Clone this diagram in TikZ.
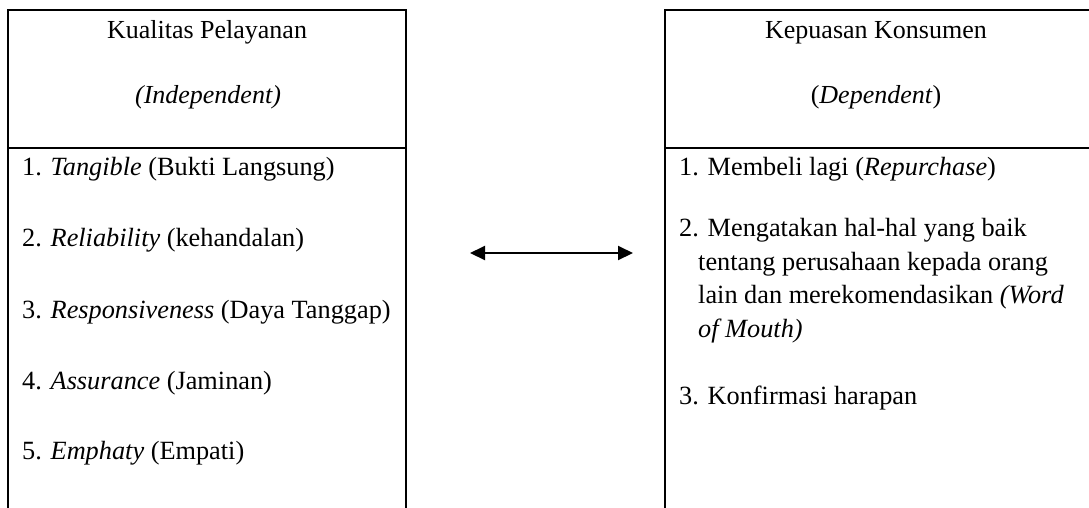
\documentclass[tikz,border=0pt]{standalone}
\usepackage{fontspec}
\setmainfont{Liberation Serif}
\usetikzlibrary{arrows.meta}
\tikzset{
  frame/.style={line width=2pt, line cap=rect},
  head/.style={anchor=base, inner sep=0pt, font=\fontsize{26}{30}\selectfont},
  item/.style={anchor=base west, inner sep=0pt, font=\fontsize{26.3}{30}\selectfont},
  link/.style={line width=2pt, {Triangle[length=15pt,width=14pt]}-{Triangle[length=15pt,width=14pt]}}
}
\begin{document}
\begin{tikzpicture}[x=1pt,y=-1pt]
\useasboundingbox (0,0) rectangle (1089,507);
% left box
\coordinate (LBL) at (8,510);
\coordinate (LTL) at (8,10);
\coordinate (LTR) at (406,10);
\coordinate (LBR) at (406,510);
\coordinate (LDL) at (8,148);
\coordinate (LDR) at (406,148);
\draw[frame] (LBL) -- (LTL) -- (LTR) -- (LBR);
\draw[frame] (LDL) -- (LDR);
% right box
\coordinate (RBL) at (665,510);
\coordinate (RTL) at (665,10);
\coordinate (RTR) at (1092,10);
\coordinate (RDL) at (665,148);
\coordinate (RDR) at (1092,148);
\draw[frame] (RBL) -- (RTL) -- (RTR);
\draw[frame] (RDL) -- (RDR);
% headers
\node[head] (lh1) at (207,38) {Kualitas Pelayanan};
\node[head] (lh2) at (208,103) {\textit{(Independent)}};
\node[head] (rh1) at (876,38) {Kepuasan Konsumen};
\node[head] (rh2) at (876,103) {(\textit{Dependent})};
% left items
\node[item] (l1) at (22,175) {1. \textit{Tangible} (Bukti Langsung)};
\node[item] (l2) at (22,246) {2. \textit{Reliability} (kehandalan)};
\node[item] (l3) at (22,318) {3. \textit{Responsiveness} (Daya Tanggap)};
\node[item] (l4) at (22,389) {4. \textit{Assurance} (Jaminan)};
\node[item] (l5) at (22,459) {5. \textit{Emphaty} (Empati)};
% right items
\node[item] (r1) at (679,175) {1. Membeli lagi (\textit{Repurchase})};
\node[item] (r2a) at (679,236) {2. Mengatakan hal-hal yang baik};
\node[item] (r2b) at (698,270) {tentang perusahaan kepada orang};
\node[item] (r2c) at (698,303) {lain dan merekomendasikan \textit{(Word}};
\node[item] (r2d) at (698,337) {\textit{of Mouth)}};
\node[item] (r3) at (679,404) {3. Konfirmasi harapan};
% arrow
\coordinate (al) at (470,253);
\coordinate (ar) at (633,253);
\draw[link] (al) -- (ar);
\end{tikzpicture}
\end{document}
